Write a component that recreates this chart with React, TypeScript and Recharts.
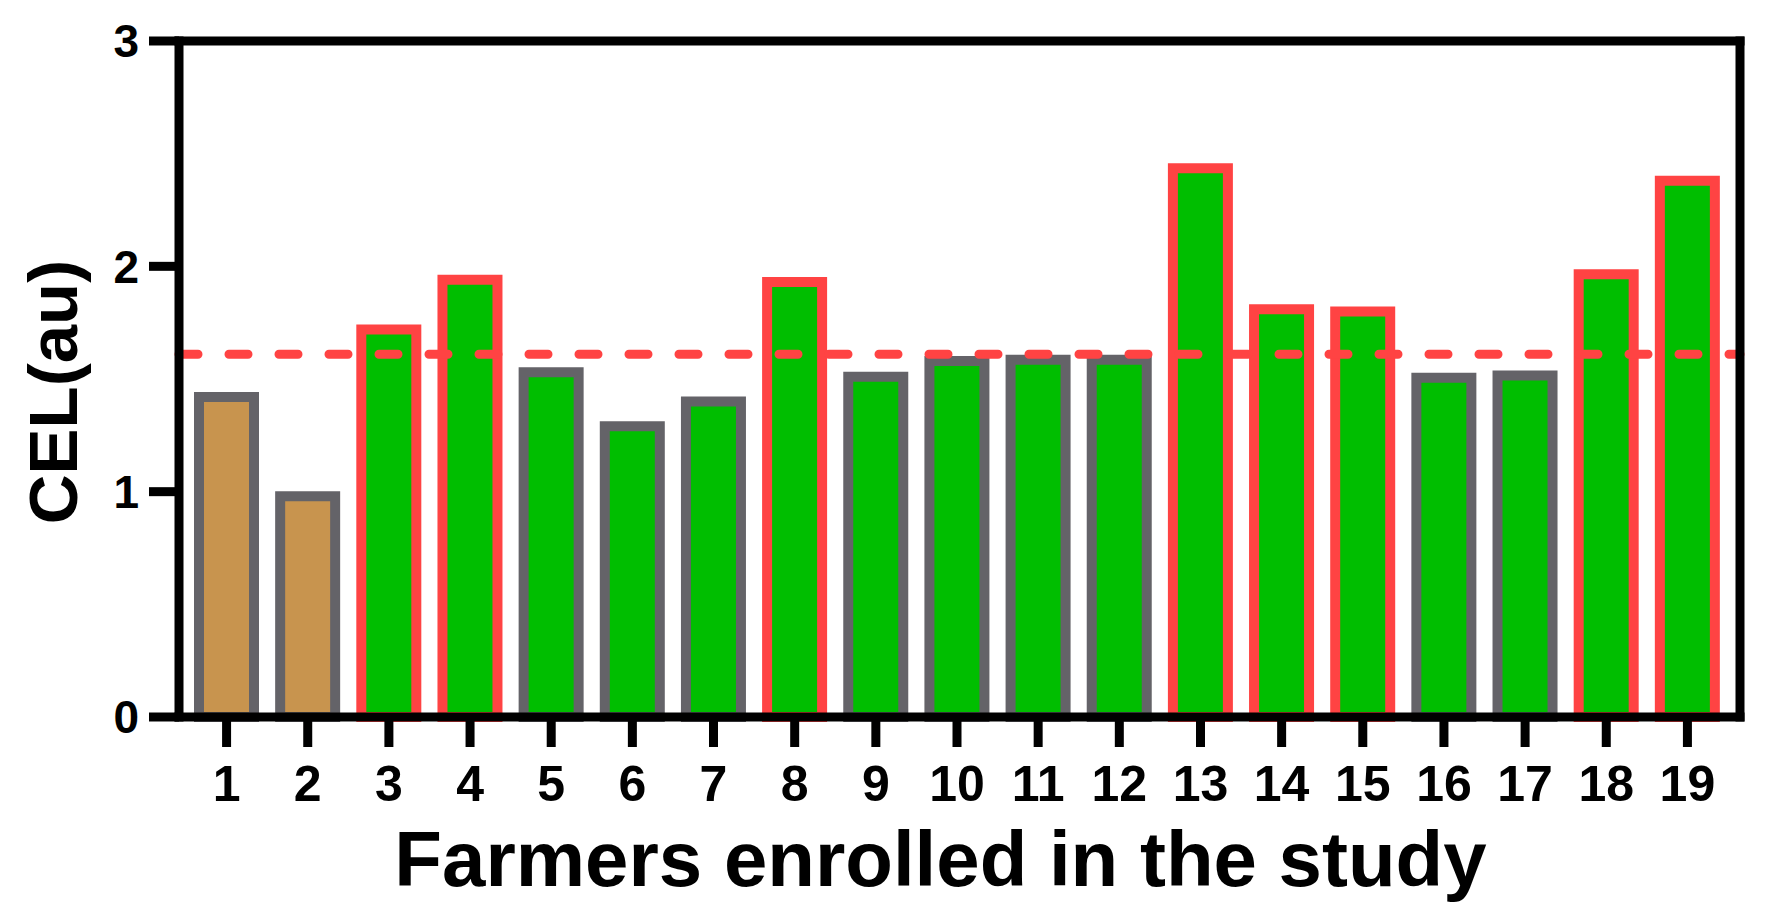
import React from 'react';
import { BarChart, Bar, XAxis, YAxis, Cell, ReferenceLine, Label } from 'recharts';

const farmers = ['1', '2', '3', '4', '5', '6', '7', '8', '9', '10', '11', '12', '13', '14', '15', '16', '17', '18', '19'];
const celValues = [1.42, 0.98, 1.72, 1.94, 1.53, 1.29, 1.40, 1.93, 1.51, 1.58, 1.585, 1.585, 2.435, 1.81, 1.80, 1.505, 1.515, 1.965, 2.38];
// farmers 1-2 are the reference group (tan)
const referenceGroup = ['1', '2'];
const yTicks = [0, 1, 2, 3];
const cutoff = 1.61;

const FONT = '"Liberation Sans", Arial, sans-serif';
const NARROW = '"Liberation Sans Narrow", "Arial Narrow", "Liberation Sans", Arial, sans-serif';

const data = farmers.map((f, i) => ({ farmer: f, cel: celValues[i] }));

const axisStroke = { stroke: '#000', strokeWidth: 9, strokeLinecap: 'square' as const };

function YTitle(): React.ReactElement {
  return (
    <text
      x={0}
      y={0}
      transform="translate(69,384) rotate(-90)"
      textAnchor="middle"
      style={{ fontSize: 69, fontWeight: 700, fill: '#000', fontFamily: FONT }}
    >
      CEL(au)
    </text>
  );
}

export default function App(): React.ReactElement {
  return (
    <div style={{ width: 1752, height: 900 }}>
      <BarChart
        width={1752}
        height={900}
        data={data}
        margin={{ top: 33, right: 19, left: 0, bottom: 0 }}
        barSize={55}
      >
        <XAxis
          dataKey="farmer"
          height={191}
          padding={{ left: 7, right: 12 }}
          axisLine={axisStroke}
          tickLine={{ stroke: '#000', strokeWidth: 9 }}
          tickSize={30}
          tickMargin={18}
          interval={0}
          tick={{ fontSize: 50, fontWeight: 700, fill: '#000', fontFamily: NARROW }}
        >
          <Label
            value="Farmers enrolled in the study"
            position="insideBottom"
            offset={22}
            dx={-19}
            style={{ fontSize: 78, fontWeight: 700, fill: '#000', fontFamily: FONT }}
          />
        </XAxis>
        <YAxis
          width={171}
          domain={[0, 3]}
          ticks={yTicks}
          axisLine={axisStroke}
          tickLine={{ stroke: '#000', strokeWidth: 9 }}
          tickSize={30}
          tickMargin={10}
          tick={{ fontSize: 46, fontWeight: 700, fill: '#000', fontFamily: FONT }}
        >
          <Label content={() => <YTitle />} />
        </YAxis>
        {/* right-hand frame edge */}
        <YAxis
          yAxisId="right"
          orientation="right"
          width={1}
          domain={[0, 3]}
          tick={false}
          tickLine={false}
          axisLine={axisStroke}
        />
        <Bar dataKey="cel" isAnimationActive={false} strokeWidth={10}>
          {data.map((d) => (
            <Cell
              key={d.farmer}
              fill={referenceGroup.includes(d.farmer) ? '#C8944E' : '#00BE00'}
              stroke={d.cel > cutoff ? '#FF4343' : '#646368'}
            />
          ))}
        </Bar>
        <ReferenceLine
          y={cutoff}
          stroke="#FF4343"
          strokeWidth={9}
          strokeDasharray="19 31"
          strokeLinecap="round"
        />
        {/* top frame edge */}
        <ReferenceLine y={3} stroke="#000" strokeWidth={9} strokeLinecap="square" />
      </BarChart>
    </div>
  );
}
